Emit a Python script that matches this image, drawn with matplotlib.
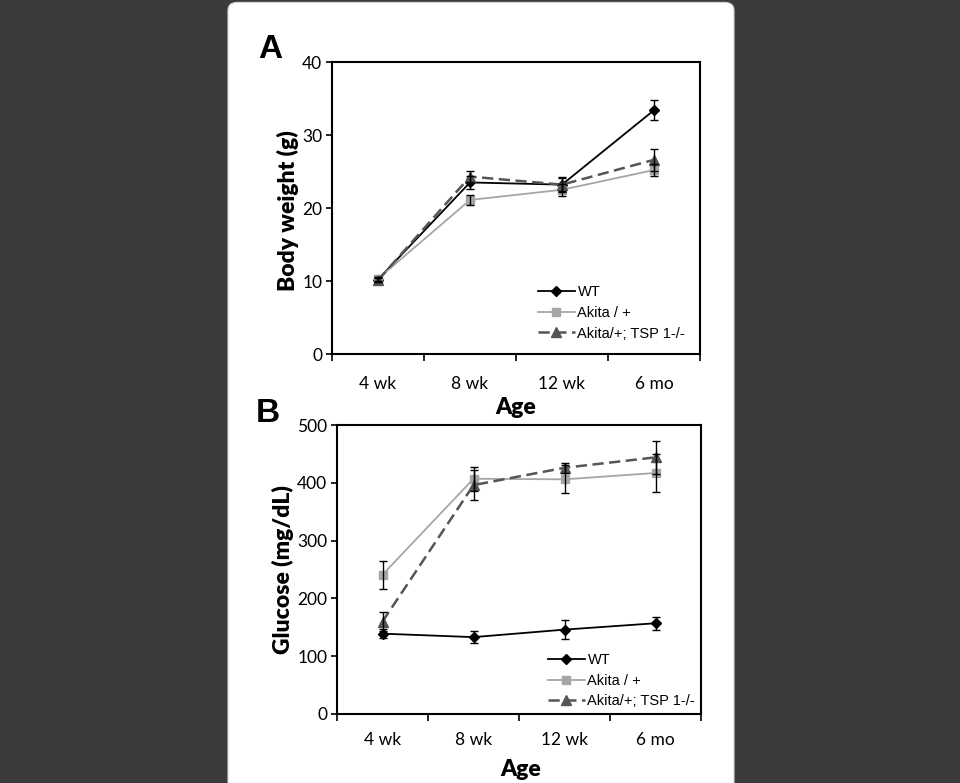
import matplotlib
matplotlib.use('Agg')
import matplotlib.pyplot as plt
import numpy as np
from matplotlib.patches import FancyBboxPatch

ages = ['4 wk', '8 wk', '12 wk', '6 mo']
series = ['WT', 'Akita / +', 'Akita/+; TSP 1-/-']

# body weight (g)
bw_wt = [10.2, 23.5, 23.2, 33.4]
bw_wt_err = [0.3, 0.9, 1.0, 1.35]
bw_akita = [10.3, 21.1, 22.5, 25.2]
bw_akita_err = [0.3, 0.7, 0.8, 0.8]
bw_tsp = [10.1, 24.3, 23.2, 26.6]
bw_tsp_err = [0.3, 0.8, 0.9, 1.5]

# glucose (mg/dL)
glu_wt = [139, 133, 146, 157]
glu_wt_err = [8, 10, 17, 11]
glu_akita = [241, 407, 406, 417]
glu_akita_err = [24, 21, 24, 33]
glu_tsp = [160, 396, 426, 444]
glu_tsp_err = [17, 26, 9, 29]

styles = [
    dict(color='black', marker='D', ms=5, lw=1.3, ls='-'),
    dict(color='#a6a6a6', marker='s', ms=5.5, lw=1.3, ls='-'),
    dict(color='#555555', marker='^', ms=6.5, lw=1.8, ls=(0, (4.5, 2.2))),
]

W, H = 960, 783
fig = plt.figure(figsize=(W / 100, H / 100), dpi=100, facecolor='#3b3b3b')

# white page behind the figure
fig.patches.append(FancyBboxPatch((228 / W, -0.05), 506 / W, 1.047,
                                  boxstyle='round,pad=0,rounding_size=0.01',
                                  transform=fig.transFigure, fc='white',
                                  ec='#d4d4d4', lw=0.8, zorder=-5))

tick_font = 'Lato'
label_font = 'Lato'
legend_font = 'Liberation Sans'


def draw_panel(rect, data, ymax, ystep, ylabel, ylab_pos, xlab_pos, leg_anchor, xpad):
    ax = fig.add_axes(rect)
    ax.set_facecolor('none')
    x = np.arange(len(ages))
    for (vals, errs), name, st in zip(data, series, styles):
        ax.plot(x, vals, color=st['color'], marker=st['marker'], ms=st['ms'],
                lw=st['lw'], ls=st['ls'], label=name, zorder=3)
        ax.errorbar(x, vals, yerr=errs, fmt='none', ecolor='black',
                    elinewidth=1, capsize=3, capthick=1, zorder=4)
    ax.set_xlim(-0.5, len(ages) - 0.5)
    ax.set_ylim(0, ymax)
    ax.set_yticks(np.arange(0, ymax + 1, ystep))
    ax.set_xticks(x)
    ax.set_xticklabels(ages, fontfamily=tick_font, fontsize=12.5)
    ax.set_xticks(np.arange(-0.5, len(ages), 1), minor=True)
    ax.tick_params(axis='x', which='major', length=0, pad=xpad)
    ax.tick_params(axis='x', which='minor', length=5, width=1.2, direction='out')
    ax.tick_params(axis='y', length=4, width=1.2, direction='out', pad=3,
                   labelsize=12.5)
    for lab in ax.get_yticklabels():
        lab.set_fontfamily(tick_font)
    for sp in ax.spines.values():
        sp.set_linewidth(1.5)
        sp.set_color('black')
    ax.set_ylabel(ylabel, fontfamily=label_font, fontweight='heavy', fontsize=16.5)
    ax.yaxis.set_label_coords(*ylab_pos)
    ax.set_xlabel('Age', fontfamily=label_font, fontweight='heavy', fontsize=16.5)
    ax.xaxis.set_label_coords(*xlab_pos)
    ax.legend(loc='upper left', bbox_to_anchor=leg_anchor, frameon=False,
              borderaxespad=0, borderpad=0, handlelength=2.5, handletextpad=0.2,
              labelspacing=0.45, prop={'family': legend_font, 'size': 10.5})
    return ax


draw_panel([332 / W, 1 - 354 / H, 368 / W, 292 / H],
           [(bw_wt, bw_wt_err), (bw_akita, bw_akita_err), (bw_tsp, bw_tsp_err)],
           40, 10, 'Body weight (g)', (-0.09, 0.49), (0.5, -0.147), (0.56, 0.235), 16)

draw_panel([337 / W, 1 - 714 / H, 364 / W, 289 / H],
           [(glu_wt, glu_wt_err), (glu_akita, glu_akita_err), (glu_tsp, glu_tsp_err)],
           500, 100, 'Glucose (mg/dL)', (-0.118, 0.5), (0.505, -0.157), (0.58, 0.21), 13)

fig.text(270 / W, 1 - 50 / H, 'A', fontfamily='Liberation Sans', fontweight='bold',
         fontsize=24, ha='center', va='center')
fig.text(268 / W, 1 - 413 / H, 'B', fontfamily='Liberation Sans', fontweight='bold',
         fontsize=24, ha='center', va='center')

fig.savefig('out.png', dpi=100, facecolor=fig.get_facecolor())
